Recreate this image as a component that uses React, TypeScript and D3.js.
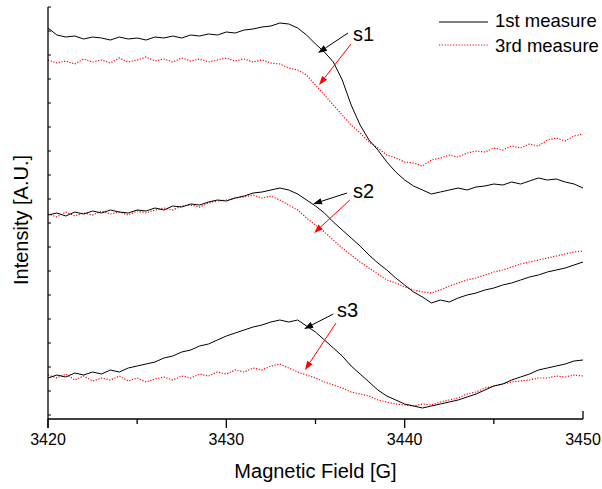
import React from "react";
import * as d3 from "d3";

// Magnetic field samples (G), every 0.5 G
const fieldStart = 3420;
const fieldStep = 0.5;

// Intensity (a.u.); stacked traces
const s1First = [392,385,383,384,381,383,382,380,383,381,382,380,383,382,384,382,385,384,386,385,388,387,390,391,393,394,397,396,392,385,376,368,358,340,315,295,280,270,258,248,240,234,230,226,228,230,232,230,233,234,236,235,238,236,239,242,240,241,238,236,232];
const s1Third = [360,357,359,356,361,358,360,357,362,358,360,363,359,361,358,362,359,361,358,360,362,359,361,358,360,357,356,352,350,345,335,325,315,305,295,287,278,272,265,262,258,257,254,260,262,265,263,267,269,268,272,270,274,272,276,274,280,282,279,284,286];
const s2First = [205,207,204,208,206,209,207,210,208,207,210,209,212,210,214,213,216,215,218,220,219,222,224,227,228,230,232,230,226,220,214,207,198,190,182,174,165,157,150,142,135,128,123,117,120,118,122,125,127,130,132,135,137,140,143,145,148,150,152,155,158];
const s2Third = [206,203,208,204,207,205,209,206,208,205,209,207,210,212,210,214,215,213,217,219,220,222,223,225,222,224,220,215,210,202,195,188,180,172,165,158,152,146,140,137,133,130,128,127,130,134,137,140,142,145,148,150,153,156,158,160,162,164,166,168,169];
const s3First = [42,45,43,47,45,48,46,50,48,52,54,56,58,62,64,68,70,74,76,80,84,87,90,93,95,98,100,98,100,94,88,80,72,64,54,46,38,30,24,20,16,14,12,14,16,18,20,23,26,30,34,36,40,43,46,50,52,54,56,59,60];
const s3Third = [45,42,46,40,44,39,42,40,44,39,42,38,41,43,40,44,42,46,44,48,46,50,48,52,50,54,56,52,48,45,42,38,35,32,28,26,24,20,18,16,15,14,16,15,18,20,22,26,28,32,34,36,38,39,40,42,42,44,43,45,44];

const xTicksMajor = [3420, 3430, 3440, 3450];
const xTicksMinor = [3425, 3435, 3445];
const legendLabels = ["1st measure", "3rd measure"];

// annotation labels and arrow anchors in data units [field, intensity]
const annLabels = ["s1", "s2", "s3"];
const annLabelPos = [[3437.1, 379], [3437.1, 222], [3436.2, 103]];
const annBlackFrom = [[3436.82, 387], [3436.77, 227], [3436.0, 106]];
const annBlackTo = [[3435.14, 367], [3434.86, 216], [3434.36, 91]];
const annRedFrom = [[3436.99, 376], [3436.93, 220], [3436.15, 97]];
const annRedTo = [[3435.2, 335], [3434.92, 187], [3434.41, 50]];

const W = 602;
const H = 489;
const FONT = "'Liberation Sans', Arial, sans-serif";

export default function App() {
  const x = d3.scaleLinear().domain([3420, 3450]).range([48, 583]);
  const y = d3.scaleLinear().domain([1, 413]).range([419, 7]);
  const toPts = (arr: number[]) => arr.map((v, i) => [fieldStart + i * fieldStep, v] as [number, number]);
  const line = d3.line<[number, number]>().x((d) => x(d[0])).y((d) => y(d[1]));
  const blackSeries = [s1First, s2First, s3First];
  const redSeries = [s1Third, s2Third, s3Third];
  const yTicks = d3.range(413, 1, -24);

  const arrow = (from: number[], to: number[], color: string, key: string) => {
    const x1 = x(from[0]), y1 = y(from[1]), x2 = x(to[0]), y2 = y(to[1]);
    const ang = Math.atan2(y2 - y1, x2 - x1);
    const L = 9, Wd = 3.2;
    const bx = x2 - L * Math.cos(ang), by = y2 - L * Math.sin(ang);
    const px = -Math.sin(ang) * Wd, py = Math.cos(ang) * Wd;
    return (
      <g key={key}>
        <line x1={x1} y1={y1} x2={bx} y2={by} stroke={color} strokeWidth={1} />
        <polygon points={`${x2},${y2} ${bx + px},${by + py} ${bx - px},${by - py}`} fill={color} />
      </g>
    );
  };

  return (
    <svg width={W} height={H} style={{ position: "fixed", left: 0, top: 0, background: "#fff" }} fontFamily={FONT}>
      <rect x={0} y={0} width={W} height={H} fill="#fff" />
      {redSeries.map((s, i) => (
        <path key={"r" + i} d={line(toPts(s)) || ""} fill="none" stroke="#ff0000" strokeWidth={1.2} strokeDasharray="1.2 1.6" />
      ))}
      {blackSeries.map((s, i) => (
        <path key={"b" + i} d={line(toPts(s)) || ""} fill="none" stroke="#000" strokeWidth={1} />
      ))}
      {/* axes */}
      <line x1={48} y1={y(413)} x2={48} y2={428} stroke="#000" strokeWidth={1.3} />
      <line x1={48} y1={419} x2={583} y2={419} stroke="#000" strokeWidth={1.3} />
      {yTicks.map((t) => (
        <line key={"yt" + t} x1={48} x2={51} y1={y(t)} y2={y(t)} stroke="#000" strokeWidth={1} />
      ))}
      {xTicksMajor.map((t) => (
        <g key={"xt" + t}>
          {t === 3450 ? (
            <line x1={x(t)} x2={x(t)} y1={419} y2={411} stroke="#000" strokeWidth={1.3} />
          ) : (
            <line x1={x(t)} x2={x(t)} y1={419} y2={428} stroke="#000" strokeWidth={1.3} />
          )}
          <text x={x(t)} y={445} textAnchor="middle" fontSize={16} fill="#000">{t}</text>
        </g>
      ))}
      {xTicksMinor.map((t) => (
        <line key={"xm" + t} x1={x(t)} x2={x(t)} y1={419} y2={424} stroke="#000" strokeWidth={1.3} />
      ))}
      <text x={315.5} y={478} textAnchor="middle" fontSize={20} fill="#000">Magnetic Field [G]</text>
      <text transform="translate(28,220) rotate(-90)" textAnchor="middle" fontSize={20} fill="#000">Intensity [A.U.]</text>
      {/* legend */}
      <line x1={439} x2={488} y1={22} y2={22} stroke="#000" strokeWidth={1} />
      <text x={495} y={27} fontSize={18.5} fill="#000">{legendLabels[0]}</text>
      <line x1={439} x2={488} y1={45} y2={45} stroke="#ff0000" strokeWidth={1.2} strokeDasharray="1.2 1.6" />
      <text x={495} y={52} fontSize={18.5} fill="#000">{legendLabels[1]}</text>
      {/* annotations */}
      {annLabels.map((lab, i) => (
        <g key={"a" + i}>
          <text x={x(annLabelPos[i][0])} y={y(annLabelPos[i][1])} fontSize={20} fill="#000">{lab}</text>
          {arrow(annBlackFrom[i], annBlackTo[i], "#000", "ab" + i)}
          {arrow(annRedFrom[i], annRedTo[i], "#ff0000", "ar" + i)}
        </g>
      ))}
    </svg>
  );
}
